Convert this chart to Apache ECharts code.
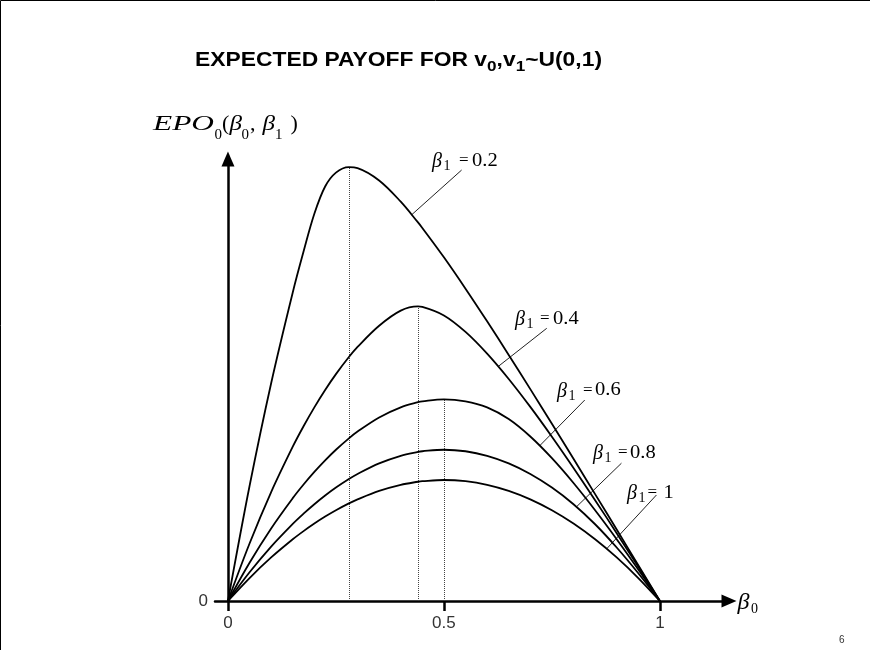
<!DOCTYPE html>
<html>
<head>
<meta charset="utf-8">
<script src="https://cdn.jsdelivr.net/npm/echarts@6/dist/echarts.min.js"></script>
<style>
  html, body { margin: 0; padding: 0; background: #fff; }
  #chart { width: 870px; height: 660px; }
</style>
</head>
<body>
<div id="chart"></div>
<script>
// Own bid-shading factor beta0 (x) and expected payoff EPO0 for each rival factor beta1
const beta0 = [0, 0.05, 0.1, 0.15, 0.175, 0.2, 0.225, 0.25, 0.28, 0.3, 0.35, 0.4, 0.44, 0.45,
               0.5, 0.55, 0.6, 0.65, 0.7, 0.75, 0.8, 0.85, 0.9, 0.95, 1];
const beta1Values = [0.2, 0.4, 0.6, 0.8, 1];

const payoffB02 = [0, 0.07917, 0.15, 0.2125, 0.24063, 0.26667, 0.28544, 0.295, 0.29878, 0.29815,
                   0.28963, 0.275, 0.26071, 0.25689, 0.23667, 0.21508, 0.19259, 0.16948, 0.14592,
                   0.12204, 0.09792, 0.07362, 0.04918, 0.02463, 0];
const payoffB04 = [0, 0.03958, 0.075, 0.10625, 0.12031, 0.13333, 0.14531, 0.15625, 0.168, 0.175,
                   0.18958, 0.2, 0.20286, 0.20257, 0.19667, 0.18533, 0.17037, 0.15291, 0.13367,
                   0.11315, 0.09167, 0.06946, 0.04671, 0.02352, 0];
const payoffB06 = [0, 0.02639, 0.05, 0.07083, 0.08021, 0.08889, 0.09688, 0.10417, 0.112, 0.11667,
                   0.12639, 0.13333, 0.13689, 0.1375, 0.13889, 0.1375, 0.13333, 0.1253, 0.11327,
                   0.09833, 0.08125, 0.06254, 0.04259, 0.02168, 0];
const payoffB08 = [0, 0.01979, 0.0375, 0.05313, 0.06016, 0.06667, 0.07266, 0.07813, 0.084, 0.0875,
                   0.09479, 0.1, 0.10267, 0.10313, 0.10417, 0.10313, 0.1, 0.09479, 0.0875,
                   0.07813, 0.06667, 0.05285, 0.03683, 0.01909, 0];
const payoffB10 = [0, 0.01583, 0.03, 0.0425, 0.04813, 0.05333, 0.05813, 0.0625, 0.0672, 0.07,
                   0.07583, 0.08, 0.08213, 0.0825, 0.08333, 0.0825, 0.08, 0.07583, 0.07,
                   0.0625, 0.05333, 0.0425, 0.03, 0.01583, 0];

// Maximising beta0 for the three highest curves (dotted drop lines)
const peakBeta0 = [0.28, 0.44, 0.5];
const peakPayoff = [0.29878, 0.20286, 0.13889];

// Leader lines: point on the curve, then the end near the curve's label
const leaderOnCurve = [[0.425, 0.2659], [0.626, 0.1616], [0.722, 0.107], [0.807, 0.0649], [0.877, 0.036]];
const leaderToLabel = [[0.541, 0.2968], [0.738, 0.1878], [0.826, 0.1384], [0.911, 0.0949], [0.992, 0.073]];

const xTickValues = [0, 0.5, 1];
const yTickValues = [0];

const SERIF = "'Liberation Serif', 'Times New Roman', serif";
const SANS = "'Liberation Sans', Arial, sans-serif";

const curves = [payoffB02, payoffB04, payoffB06, payoffB08, payoffB10];

const measureCtx = document.createElement('canvas').getContext('2d');
function fontOf(p) {
  return (p.italic ? 'italic ' : '') + (p.bold ? 'bold ' : '') + p.size + 'px ' + p.family;
}
function textWidth(p) {
  measureCtx.font = fontOf(p);
  return measureCtx.measureText(p.t).width;
}
function textEl(p, x, y, scaleX) {
  const font = fontOf(p);
  return {
    type: 'text', x: x, y: y, scaleX: scaleX || 1, silent: true, z: 100,
    style: {
      text: p.t, font: font, fill: p.fill || '#000',
      align: 'left', verticalAlign: 'middle',
      textAlign: 'left', textVerticalAlign: 'middle'
    }
  };
}

const graphics = [];

// Slide frame along the top and left edges
graphics.push({
  type: 'polyline', silent: true, z: 1,
  shape: { points: [[0.5, 650], [0.5, 0.5], [870, 0.5]] },
  style: { stroke: '#000', lineWidth: 1, fill: null }
});

// Title: pieces flowed left to right, then stretched to the title width
(function () {
  const main = { size: 20, bold: true, family: SANS };
  const sub = { size: 15, bold: true, family: SANS, dy: 6.5 };
  const parts = [
    Object.assign({ t: 'EXPECTED PAYOFF FOR v' }, main),
    Object.assign({ t: '0' }, sub),
    Object.assign({ t: ',v' }, main),
    Object.assign({ t: '1' }, sub),
    Object.assign({ t: '~U(0,1)' }, main)
  ];
  const left = 195, targetWidth = 407, midY = 60;
  const natural = parts.reduce((s, p) => s + textWidth(p), 0);
  const k = targetWidth / natural;
  let x = left;
  parts.forEach(p => {
    graphics.push(textEl(p, x, midY + (p.dy || 0), k));
    x += textWidth(p) * k;
  });
})();

// Y-axis caption EPO0(β0, β1)
(function () {
  const midY = 124.5;
  const it = { size: 22, italic: true, family: SERIF };
  const up = { size: 22, family: SERIF };
  const sb = { size: 15, family: SERIF, dy: 10.5 };
  const pieces = [
    [Object.assign({ t: 'EPO' }, it), 153, 61],
    [Object.assign({ t: '0' }, sb), 214.5],
    [Object.assign({ t: '(' }, up), 222],
    [Object.assign({ t: 'β' }, it), 229.5, 12.5],
    [Object.assign({ t: '0' }, sb), 241.5],
    [Object.assign({ t: ',' }, up), 250],
    [Object.assign({ t: 'β' }, it), 262.5, 12.5],
    [Object.assign({ t: '1' }, sb), 275],
    [Object.assign({ t: ')' }, up), 290.5]
  ];
  pieces.forEach(([p, x, w]) => {
    const k = w ? w / textWidth(p) : 1;
    graphics.push(textEl(p, x, midY + (p.dy || 0), k));
  });
})();

// X-axis caption β0
graphics.push(textEl({ t: 'β', size: 24, italic: true, family: SERIF }, 737.5, 603));
graphics.push(textEl({ t: '0', size: 14, family: SERIF }, 751, 609));

// Curve labels "β1 = value"
const labelAnchors = [[432, 161], [515, 319], [557, 390.5], [593, 453], [627, 493]];
const labelOffsets = [[27, 40], [25, 38], [26, 38], [25, 37], [20.5, 36.5]];
beta1Values.forEach((b, i) => {
  const [x, y] = labelAnchors[i];
  const [eqDx, valDx] = labelOffsets[i];
  graphics.push(textEl({ t: 'β', size: 20, italic: true, family: SERIF }, x, y + 1));
  graphics.push(textEl({ t: '1', size: 14, family: SERIF }, x + 11.5, y + 5.5));
  graphics.push(textEl({ t: '=', size: 17, family: SERIF }, x + eqDx, y));
  graphics.push(textEl({ t: String(b), size: 19, family: SERIF }, x + valDx, y, 1.08));
});

// Slide number
graphics.push(textEl({ t: '6', size: 10, family: SANS, fill: '#333' }, 839, 640));

const series = curves.map((vals, i) => {
  const mark = [[
    { coord: leaderOnCurve[i], lineStyle: { color: '#222', width: 1, type: 'solid' } },
    { coord: leaderToLabel[i] }
  ]];
  if (i < peakBeta0.length) {
    mark.push([
      { coord: [peakBeta0[i], 0], lineStyle: { color: '#444', width: 1, type: 'dotted' } },
      { coord: [peakBeta0[i], peakPayoff[i]] }
    ]);
  }
  return {
    type: 'line',
    name: 'β1 = ' + beta1Values[i],
    data: beta0.map((x, j) => [x, vals[j]]),
    showSymbol: false,
    smooth: 0.35,
    silent: true,
    z: 5,
    lineStyle: { color: '#000', width: 1.8 },
    markLine: {
      silent: true,
      symbol: ['none', 'none'],
      label: { show: false },
      animation: false,
      z: 4,
      data: mark
    }
  };
});

const chart = echarts.init(document.getElementById('chart'), null, { renderer: 'canvas' });
chart.setOption({
  animation: false,
  backgroundColor: '#fff',
  grid: { left: 215, top: 159, width: 514, height: 442, containLabel: false },
  xAxis: {
    type: 'value', min: -0.03, max: 1.16,
    axisLine: {
      show: true, onZero: true,
      symbol: ['none', 'triangle'], symbolSize: [13, 15],
      lineStyle: { color: '#000', width: 2.5 }
    },
    axisTick: { show: true, customValues: xTickValues, length: 10, lineStyle: { color: '#000', width: 2.5 } },
    axisLabel: { customValues: xTickValues, fontSize: 17, fontFamily: SANS, color: '#333', margin: 14 },
    splitLine: { show: false }
  },
  yAxis: {
    type: 'value', min: 0, max: 0.3044,
    axisLine: {
      show: true, onZero: true,
      symbol: ['none', 'triangle'], symbolSize: [13, 15],
      lineStyle: { color: '#000', width: 2.5 }
    },
    axisTick: { show: false },
    axisLabel: { customValues: yTickValues, fontSize: 17, fontFamily: SANS, color: '#333', margin: 7 },
    splitLine: { show: false }
  },
  graphic: { elements: graphics },
  series: series
});
</script>
</body>
</html>
